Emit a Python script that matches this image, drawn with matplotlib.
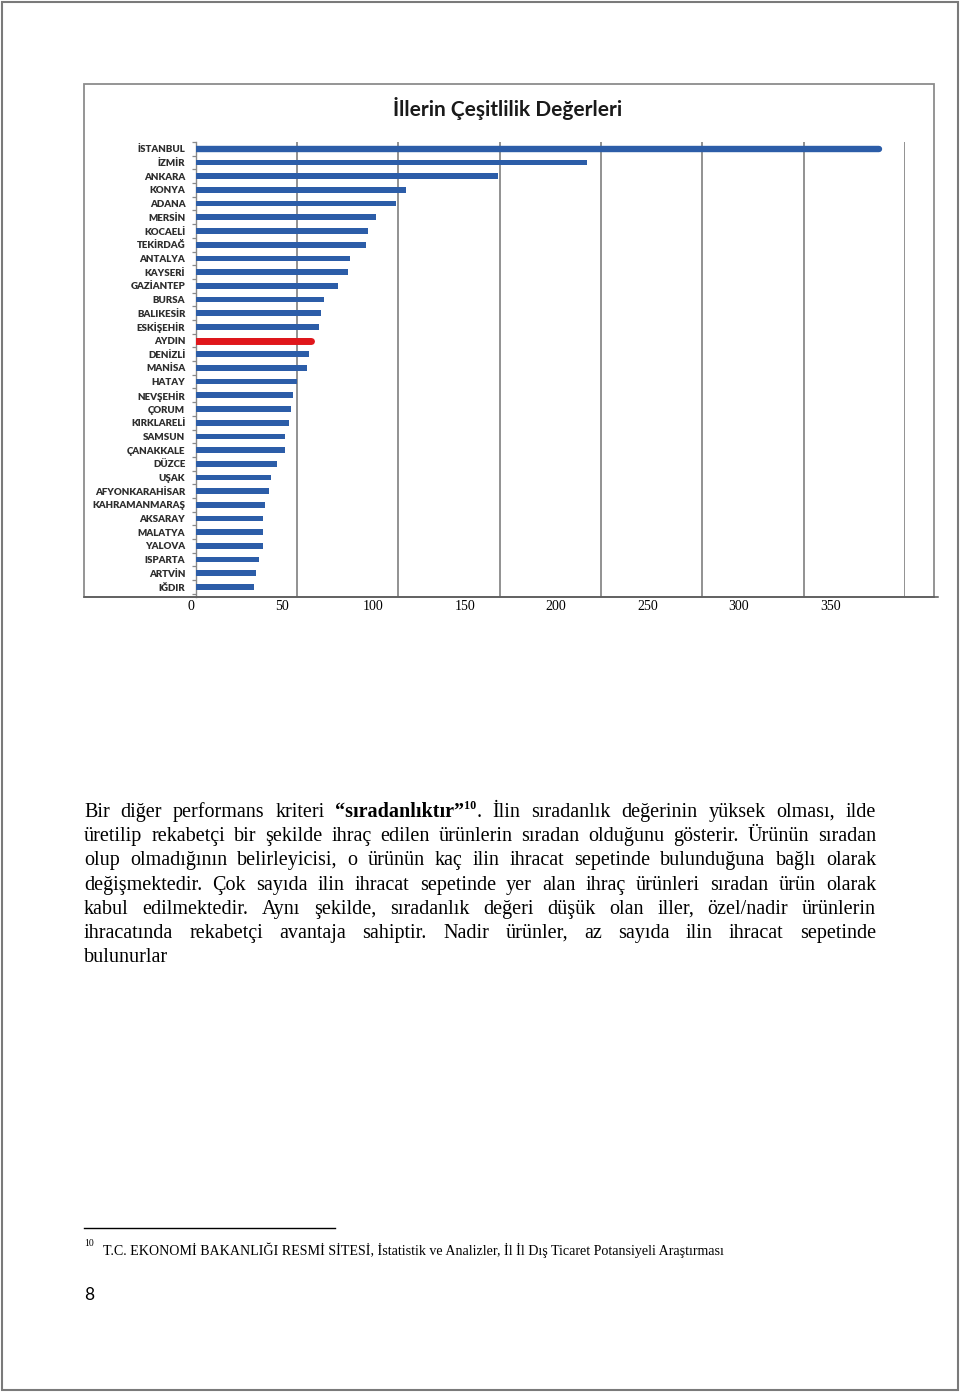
import matplotlib
matplotlib.use("Agg")
import matplotlib.pyplot as plt
from matplotlib.lines import Line2D
from matplotlib.patches import Rectangle
import numpy as np

# il isimleri ve cesitlilik degerleri
iller = ["İSTANBUL", "İZMİR", "ANKARA", "KONYA", "ADANA", "MERSİN", "KOCAELİ",
         "TEKİRDAĞ", "ANTALYA", "KAYSERİ", "GAZİANTEP", "BURSA", "BALIKESİR",
         "ESKİŞEHİR", "AYDIN", "DENİZLİ", "MANİSA", "HATAY", "NEVŞEHİR", "ÇORUM",
         "KIRKLARELİ", "SAMSUN", "ÇANAKKALE", "DÜZCE", "UŞAK", "AFYONKARAHİSAR",
         "KAHRAMANMARAŞ", "AKSARAY", "MALATYA", "YALOVA", "ISPARTA", "ARTVİN", "IĞDIR"]
degerler = [337, 193, 149, 104, 99, 89, 85, 84, 76, 75, 70, 63.5, 62, 61, 57,
            56, 55, 50, 48, 47, 46, 44, 44, 40, 37, 36, 34, 33, 33, 33, 31, 30, 29]
vurgu = "AYDIN"
eksen_etiketleri = [0, 50, 100, 150, 200, 250, 300, 350]

baslik = "İllerin Çeşitlilik Değerleri"
paragraf = [
    "Bir diğer performans kriteri “sıradanlıktır”10. İlin sıradanlık değerinin yüksek olması, ilde",
    "üretilip rekabetçi bir şekilde ihraç edilen ürünlerin sıradan olduğunu gösterir. Ürünün sıradan",
    "olup olmadığının belirleyicisi, o ürünün kaç ilin ihracat sepetinde bulunduğuna bağlı olarak",
    "değişmektedir. Çok sayıda ilin ihracat sepetinde yer alan ihraç ürünleri sıradan ürün olarak",
    "kabul edilmektedir. Aynı şekilde, sıradanlık değeri düşük olan iller, özel/nadir ürünlerin",
    "ihracatında rekabetçi avantaja sahiptir. Nadir ürünler, az sayıda ilin ihracat sepetinde",
    "bulunurlar",
]
dipnot = "T.C. EKONOMİ BAKANLIĞI RESMİ SİTESİ, İstatistik ve Analizler, İl İl Dış Ticaret Potansiyeli Araştırması"

W, H = 960, 1393
fig = plt.figure(figsize=(W / 100, H / 100), dpi=100)
fig.patch.set_facecolor("white")


def fx(x):
    return x / W


def fy(y):
    return 1 - y / H


# sayfa cercevesi
fig.add_artist(Rectangle((fx(1.5), fy(1389.5)), fx(956), (1388) / H, fill=False,
                         edgecolor="#7a7a7a", lw=1.5, transform=fig.transFigure))
# grafik cercevesi
fig.add_artist(Rectangle((fx(84), fy(597)), fx(850), (597 - 84) / H, fill=False,
                         edgecolor="#8c8c8c", lw=1.3, transform=fig.transFigure))
fig.add_artist(Line2D([fx(84), fx(938)], [fy(597), fy(597)], color="#555555", lw=1.1,
                      transform=fig.transFigure))

# ana grafik
ax = fig.add_axes([fx(195.7), fy(597), (905 - 195.7) / W, (597 - 142) / H])
y = np.arange(len(iller))
ax.barh(y, degerler, height=0.42, color="#2C5DA8", zorder=3)
i_v = iller.index(vurgu)
ax.hlines([0], [0], [degerler[0]], color="#2C5DA8", lw=4.6, capstyle="round", zorder=4)
ax.hlines([i_v], [0], [degerler[i_v]], color="#E0161B", lw=5.0, capstyle="round", zorder=4)

ax.set_xlim(0, 350)
ax.set_ylim(len(iller) - 1 + 0.73, -0.44)
ax.set_xticks(np.arange(50, 351, 50))
ax.tick_params(axis="x", length=0, labelbottom=False)
ax.grid(axis="x", color="#7f7f7f", lw=1.2, zorder=0)
for s in ["top", "right", "bottom"]:
    ax.spines[s].set_visible(False)
ax.spines["left"].set_color("#8a8a8a")
ax.spines["left"].set_linewidth(1.0)
ax.set_yticks(y)
ax.set_yticklabels(iller, fontfamily="Lato", fontweight="heavy", fontsize=7, color="#2e2e2e")
ax.tick_params(axis="y", which="major", length=0, pad=7.5)
ax.set_yticks(np.arange(-0.5, len(iller), 1), minor=True)
ax.tick_params(axis="y", which="minor", length=3, width=0.9, color="#8a8a8a", direction="out")
ax.patch.set_visible(False)

# alttaki sayilar (grafikten bagimsiz yerlestirilmis, kaymis olcek)
ax2 = fig.add_axes([fx(190.8), fy(597), (830.1 - 190.8) / W, 0.0001])
ax2.set_xlim(0, 350)
ax2.set_xticks(eksen_etiketleri)
ax2.set_xticklabels([str(v) for v in eksen_etiketleri], fontfamily="Liberation Serif", fontsize=10)
ax2.tick_params(axis="x", length=0, pad=2.5)
ax2.set_yticks([])
for s in ax2.spines.values():
    s.set_visible(False)
ax2.patch.set_visible(False)

fig.text(fx(508), fy(109), baslik, ha="center", va="center", fontfamily="Lato",
         fontweight="bold", fontsize=15, color="#1a1a1a")

# paragraf (iki yana yaslanmis)
renderer = fig.canvas.get_renderer()
serif = "Liberation Serif"
fs = 14.5
sol, sag = 84, 876
taban0, aralik = 817, 24.2


def genislik(t):
    return t.get_window_extent(renderer).width


for k, satir in enumerate(paragraf):
    taban = round(taban0 + k * aralik)
    kelimeler = []
    for w in satir.split(" "):
        if w == "“sıradanlıktır”10.":
            kelimeler.append([("“sıradanlıktır”", "b"), ("10", "s"), (".", "n")])
        else:
            kelimeler.append([(w, "n")])
    objeler = []
    toplam = 0
    for kel in kelimeler:
        parca = []
        for metin, st in kel:
            if st == "s":
                t = fig.text(0, 0, metin, fontfamily=serif, fontweight="bold", fontsize=fs * 0.6,
                             va="baseline", color="black")
            else:
                t = fig.text(0, 0, metin, fontfamily=serif,
                             fontweight="bold" if st == "b" else "normal",
                             fontsize=fs, va="baseline", color="black")
            parca.append((t, st, genislik(t)))
            toplam += parca[-1][2]
        objeler.append(parca)
    son = k == len(paragraf) - 1
    if son or len(objeler) == 1:
        bosluk = fs * 0.25 * 100 / 72
    else:
        bosluk = (sag - sol - toplam) / (len(objeler) - 1)
    x = sol
    for parca in objeler:
        for t, st, w in parca:
            yy = taban - 8 if st == "s" else taban
            t.set_position((fx(x), fy(yy)))
            x += w
        x += bosluk

# dipnot
fig.add_artist(Line2D([fx(84), fx(335)], [fy(1228), fy(1228)], color="black", lw=1.0,
                      transform=fig.transFigure))
fig.text(fx(84), fy(1246), "10", fontfamily=serif, fontsize=7, va="baseline")
t = fig.text(fx(103), fy(1255), dipnot, fontfamily=serif, fontsize=10, va="baseline")
w = genislik(t)
t.set_fontsize(10 * 622 / w)

fig.text(fx(84), fy(1300), "8", fontfamily="Lato", fontsize=12.5, va="baseline")

fig.savefig("out.png", dpi=100)
